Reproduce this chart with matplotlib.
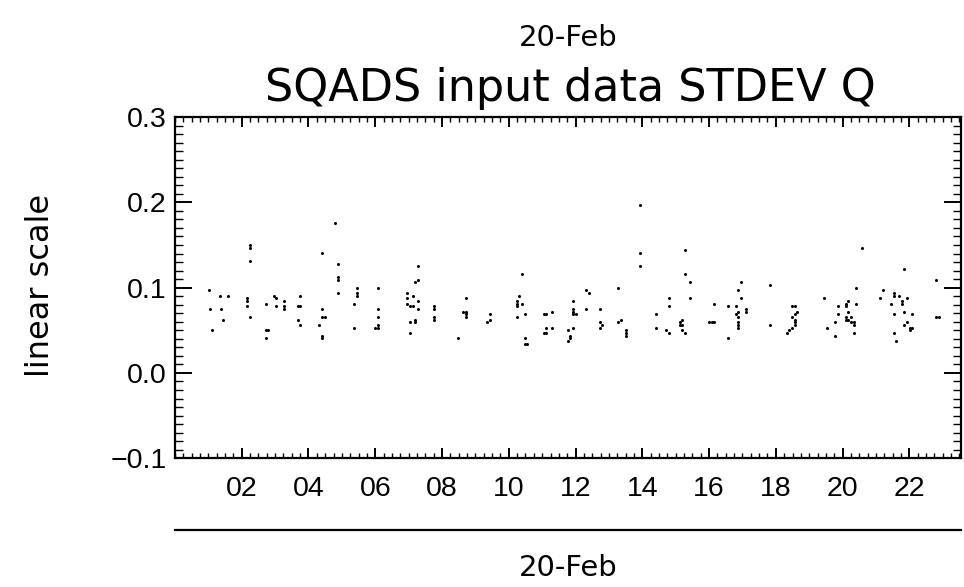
import matplotlib
matplotlib.use("Agg")
import matplotlib.pyplot as plt
from matplotlib.ticker import FixedLocator, MultipleLocator
from matplotlib.lines import Line2D

# hour of day (20-Feb) and STDEV Q of the SQADS input data
hours = [
    1.03, 1.04, 1.12, 1.36, 1.37, 1.44, 1.60, 2.24, 2.24, 2.24, 2.16, 2.16, 2.16, 2.24,
    2.72, 2.72, 2.80, 2.72, 2.96, 3.04, 3.04, 3.28, 3.28, 3.28, 3.68, 3.76, 3.68, 3.76, 3.76,
    4.80, 4.40, 4.88, 4.88, 4.88, 4.88, 4.40, 4.40, 4.48, 4.32, 4.40, 4.40,
    5.44, 5.44, 5.44, 5.36, 5.36, 6.08, 6.08, 6.08, 6.00, 6.08, 6.08,
    7.28, 7.28, 7.20, 6.96, 7.12, 6.96, 7.28, 6.96, 7.04, 7.12, 7.28, 7.04, 7.20, 7.20, 7.04,
    7.76, 7.76, 7.76, 7.76, 8.72, 8.64, 8.72, 8.72, 8.72, 8.48, 9.44, 9.36, 9.44,
    10.40, 10.32, 10.24, 10.24, 10.40, 10.24, 10.24, 10.48, 10.48, 10.48, 10.56,
    11.04, 11.12, 11.28, 11.12, 11.28, 11.04, 11.12,
    13.92, 13.92, 13.92, 12.32, 12.40, 11.92, 11.92, 11.92, 12.00, 11.92, 12.32, 12.72,
    11.76, 11.92, 11.84, 11.84, 11.76, 12.72, 12.80, 12.72, 13.28, 13.36, 13.28,
    13.52, 13.52, 13.52, 14.40, 14.40, 14.80, 14.80, 15.28, 15.28, 14.72, 14.80,
    15.20, 15.12, 15.12, 15.20, 15.20, 15.28,
    15.44, 15.44, 16.16, 16.00, 16.08, 16.16, 16.56, 16.56, 16.96, 16.88, 16.96,
    16.80, 16.88, 16.80, 16.88, 16.88, 16.88, 16.88, 17.12, 17.12, 17.84, 17.84,
    18.48, 18.56, 18.64, 18.56, 18.48, 18.56, 18.56, 18.56, 18.48, 18.40, 18.32,
    20.58, 20.41, 19.45, 19.85, 20.09, 20.09, 20.17, 20.41, 19.85, 20.17, 20.09, 20.09,
    20.17, 20.25, 20.25, 20.33, 20.33, 19.77, 19.53, 19.77, 20.33,
    21.85, 21.21, 21.13, 21.53, 21.53, 21.69, 21.93, 21.77, 21.77, 21.45, 21.53, 21.85,
    22.09, 21.93, 21.85, 22.01, 22.09, 22.01, 21.53, 21.61, 22.81, 22.81, 22.89,
]
stdev_q = [
    0.0968, 0.0749, 0.0498, 0.0906, 0.0749, 0.0623, 0.0906, 0.1498, 0.1470, 0.1313, 0.0874, 0.0843, 0.0780, 0.0654,
    0.0811, 0.0498, 0.0498, 0.0404, 0.0906, 0.0874, 0.0780, 0.0843, 0.0780, 0.0749, 0.0780, 0.0780, 0.0623, 0.0560, 0.0906,
    0.1753, 0.1407, 0.1282, 0.1125, 0.1094, 0.0937, 0.0749, 0.0654, 0.0654, 0.0560, 0.0435, 0.0404,
    0.1000, 0.0937, 0.0906, 0.0811, 0.0529, 0.1000, 0.0749, 0.0654, 0.0529, 0.0529, 0.0560,
    0.1251, 0.1094, 0.1062, 0.0937, 0.0906, 0.0874, 0.0843, 0.0811, 0.0780, 0.0780, 0.0749, 0.0592, 0.0623, 0.0592, 0.0466,
    0.0780, 0.0749, 0.0654, 0.0623, 0.0874, 0.0717, 0.0717, 0.0686, 0.0654, 0.0404, 0.0686, 0.0592, 0.0623,
    0.1156, 0.0906, 0.0843, 0.0811, 0.0811, 0.0780, 0.0654, 0.0686, 0.0404, 0.0341, 0.0341,
    0.0686, 0.0686, 0.0717, 0.0529, 0.0529, 0.0466, 0.0466,
    0.1972, 0.1407, 0.1251, 0.0968, 0.0937, 0.0843, 0.0749, 0.0717, 0.0686, 0.0686, 0.0749, 0.0749,
    0.0498, 0.0529, 0.0435, 0.0404, 0.0372, 0.0592, 0.0560, 0.0529, 0.1000, 0.0623, 0.0592,
    0.0498, 0.0466, 0.0435, 0.0686, 0.0529, 0.0874, 0.0780, 0.1439, 0.1156, 0.0498, 0.0466,
    0.0623, 0.0592, 0.0560, 0.0560, 0.0498, 0.0466,
    0.1062, 0.0874, 0.0811, 0.0592, 0.0592, 0.0592, 0.0780, 0.0404, 0.1062, 0.0968, 0.0874,
    0.0780, 0.0717, 0.0686, 0.0654, 0.0592, 0.0560, 0.0529, 0.0749, 0.0717, 0.1031, 0.0560,
    0.0780, 0.0780, 0.0717, 0.0686, 0.0654, 0.0623, 0.0592, 0.0560, 0.0529, 0.0498, 0.0466,
    0.1470, 0.1000, 0.0874, 0.0780, 0.0811, 0.0780, 0.0843, 0.0811, 0.0686, 0.0717, 0.0654, 0.0623,
    0.0623, 0.0654, 0.0592, 0.0592, 0.0560, 0.0592, 0.0529, 0.0435, 0.0466,
    0.1219, 0.0968, 0.0874, 0.0937, 0.0906, 0.0906, 0.0874, 0.0843, 0.0811, 0.0811, 0.0686, 0.0717,
    0.0686, 0.0592, 0.0560, 0.0529, 0.0529, 0.0498, 0.0466, 0.0372, 0.1094, 0.0654, 0.0654,
]
hour_ticks = list(range(2, 24, 2))
hour_labels = ["%02d" % h for h in hour_ticks]
day = "20-Feb"

plt.rcParams["font.family"] = "DejaVu Sans"

fig = plt.figure(figsize=(9.64, 5.87), dpi=100)
ax = fig.add_axes([0.1815, 0.2193, 0.8155, 0.5814])

ax.plot(hours, stdev_q, ls="none", marker="o", ms=2.2, mec="none", mfc="black")

ax.set_xlim(0, 23.55)
ax.set_ylim(-0.1, 0.3)
ax.xaxis.set_major_locator(FixedLocator(hour_ticks))
ax.set_xticklabels(hour_labels)
ax.xaxis.set_minor_locator(MultipleLocator(0.25))
ax.yaxis.set_major_locator(MultipleLocator(0.1))
ax.yaxis.set_minor_locator(MultipleLocator(0.01))
ax.yaxis.set_major_formatter(plt.FuncFormatter(lambda v, p: ("%.1f" % v).replace("-", "\u2212")))

for s in ax.spines.values():
    s.set_linewidth(1.6)
ax.tick_params(axis="both", which="both", direction="in", top=True, right=True, color="black")
ax.tick_params(axis="x", which="major", length=7, width=1.4, pad=13)
ax.tick_params(axis="x", which="minor", length=3.5, width=1.0)
ax.tick_params(axis="y", which="major", length=12, width=1.4, pad=6)
ax.tick_params(axis="y", which="minor", length=5.5, width=1.0)
for lab in ax.get_xticklabels() + ax.get_yticklabels():
    lab.set_family(["Liberation Sans", "DejaVu Sans"])
    lab.set_fontsize(20.5)

fig.text(0.042, 0.5145, "linear scale", rotation=90, ha="center", va="center", fontsize=23)
fig.text(0.589, 0.936, day, ha="center", va="center", fontsize=21)
fig.text(0.592, 0.850, "SQADS input data STDEV Q", ha="center", va="center", fontsize=32)

fig.add_artist(Line2D([0.1815, 0.997], [0.097, 0.097], transform=fig.transFigure, color="black", lw=1.6))
fig.text(0.589, 0.033, day, ha="center", va="center", fontsize=21)

fig.savefig("out.png", dpi=100)
